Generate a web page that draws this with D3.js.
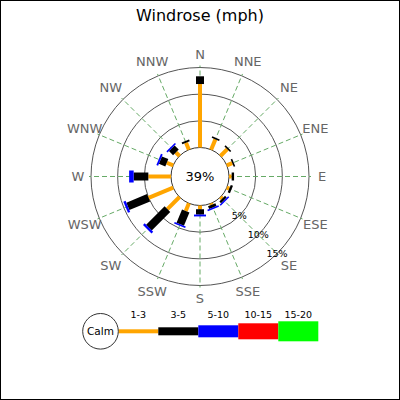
<!DOCTYPE html>
<html>
<head>
<meta charset="utf-8">
<script src="https://cdn.jsdelivr.net/npm/d3@7"></script>
<style>
  body { margin: 0; background: #fff; }
  svg { display: block; font-family: "DejaVu Sans", sans-serif; }
</style>
</head>
<body>
<svg id="rose"></svg>
<script>
// compass directions, clockwise from north
const directions = ["N", "NNE", "NE", "ENE", "E", "ESE", "SE", "SSE",
                    "S", "SSW", "SW", "WSW", "W", "WNW", "NW", "NNW"];
const speedBins = ["1-3", "3-5", "5-10", "10-15", "15-20"];

// percent of time per direction, per speed bin
const bin1to3   = [11.9, 2.1, 1.8, 1.1, 0.5, 0.5, 0.45, 0.3, 0.7, 1.55, 3.2, 5.0, 4.25, 1.3, 0.95, 1.4];
const bin3to5   = [1.45, 0.3, 0.3, 0.3, 0.45, 0.45, 0.45, 0.55, 1.0, 2.7, 4.9, 4.2, 2.75, 1.3, 1.1, 0.35];
const bin5to10  = [0, 0, 0, 0, 0, 0, 0.3, 0.3, 0.35, 0.3, 0.45, 0.45, 0.85, 0.35, 0.3, 0];
const bin10to15 = [0, 0, 0, 0, 0, 0, 0, 0, 0, 0, 0, 0, 0, 0, 0, 0];
const bin15to20 = [0, 0, 0, 0, 0, 0, 0, 0, 0, 0, 0, 0, 0, 0, 0, 0];
const calmPct = 39;
const rangeTicks = [5, 10, 15];

const binValues = [bin1to3, bin3to5, bin5to10, bin10to15, bin15to20];
const binColors = ["orange", "black", "blue", "red", "#00ff00"];
const binWidths = [4, 8, 12, 16, 20];

const width = 400, height = 400;
const cx = 200, cy = 176.5;
const calmR = 29;

const svg = d3.select("#rose")
    .attr("width", width)
    .attr("height", height);

svg.append("rect")
    .attr("x", 0.5).attr("y", 0.5)
    .attr("width", width - 1).attr("height", height - 1)
    .attr("fill", "#fff").attr("stroke", "#000");

svg.append("text")
    .attr("x", width / 2).attr("y", 21)
    .attr("text-anchor", "middle")
    .attr("font-size", 16)
    .attr("fill", "#000")
    .text("Windrose (mph)");

const r = d3.scaleLinear().domain([0, 15]).range([calmR, 109]);
const angle = d3.scaleLinear().domain([0, directions.length]).range([0, 2 * Math.PI]);
const px = (i, rr) => cx + rr * Math.sin(angle(i));
const py = (i, rr) => cy - rr * Math.cos(angle(i));

const g = svg.append("g");

// range rings
g.selectAll("circle.ring")
    .data(rangeTicks)
    .enter().append("circle")
    .attr("class", "ring")
    .attr("cx", cx).attr("cy", cy)
    .attr("r", d => r(d))
    .attr("fill", "none")
    .attr("stroke", "#555");

// direction grid lines
g.selectAll("line.grid")
    .data(directions)
    .enter().append("line")
    .attr("class", "grid")
    .attr("x1", (d, i) => px(i, calmR)).attr("y1", (d, i) => py(i, calmR))
    .attr("x2", (d, i) => px(i, r(15) + 2)).attr("y2", (d, i) => py(i, r(15) + 2))
    .attr("stroke", "#66aa66")
    .attr("stroke-dasharray", "5,3");

// calm circle
g.append("circle")
    .attr("cx", cx).attr("cy", cy).attr("r", calmR)
    .attr("fill", "#fff").attr("stroke", "#333");

// stacked rays
directions.forEach((dir, i) => {
    let acc = 0;
    binValues.forEach((vals, b) => {
        const v = vals[i];
        if (v <= 0) return;
        g.append("line")
            .attr("x1", px(i, r(acc))).attr("y1", py(i, r(acc)))
            .attr("x2", px(i, r(acc + v))).attr("y2", py(i, r(acc + v)))
            .attr("stroke", binColors[b])
            .attr("stroke-width", binWidths[b]);
        acc += v;
    });
});

// direction labels
g.selectAll("text.dir")
    .data(directions)
    .enter().append("text")
    .attr("class", "dir")
    .attr("x", (d, i) => px(i, 122 + 4 * Math.abs(Math.sin(2 * angle(i)))))
    .attr("y", (d, i) => py(i, 122 + 4 * Math.abs(Math.sin(2 * angle(i)))))
    .attr("text-anchor", "middle")
    .attr("dominant-baseline", "central")
    .attr("font-size", 13)
    .attr("fill", "#666")
    .text(d => d);

// range labels along SE
const labAng = 3 * Math.PI / 4;
g.selectAll("text.tick")
    .data(rangeTicks)
    .enter().append("text")
    .attr("class", "tick")
    .attr("x", d => cx + r(d) * Math.sin(labAng))
    .attr("y", d => cy - r(d) * Math.cos(labAng))
    .attr("text-anchor", "middle")
    .attr("dominant-baseline", "central")
    .attr("font-size", 9.5)
    .attr("fill", "#000")
    .text(d => d + "%");

g.append("text")
    .attr("x", cx).attr("y", cy)
    .attr("text-anchor", "middle")
    .attr("dominant-baseline", "central")
    .attr("font-size", 13)
    .attr("fill", "#000")
    .text(calmPct + "%");

// legend
const legY = 331.3;
const lx = d3.scaleBand().domain(speedBins).range([118.3, 318.3]);
const leg = svg.append("g");

leg.selectAll("rect")
    .data(speedBins)
    .enter().append("rect")
    .attr("x", d => lx(d))
    .attr("y", (d, i) => legY - binWidths[i] / 2)
    .attr("width", lx.bandwidth())
    .attr("height", (d, i) => binWidths[i])
    .attr("fill", (d, i) => binColors[i]);

leg.selectAll("text")
    .data(speedBins)
    .enter().append("text")
    .attr("x", d => lx(d) + lx.bandwidth() / 2)
    .attr("y", 314)
    .attr("text-anchor", "middle")
    .attr("dominant-baseline", "central")
    .attr("font-size", 9.5)
    .attr("fill", "#000")
    .text(d => d);

leg.append("circle")
    .attr("cx", 100.5).attr("cy", legY).attr("r", 17.8)
    .attr("fill", "#fff").attr("stroke", "#333");

leg.append("text")
    .attr("x", 100.5).attr("y", legY)
    .attr("text-anchor", "middle")
    .attr("dominant-baseline", "central")
    .attr("font-size", 10.5)
    .attr("fill", "#000")
    .text("Calm");
</script>
</body>
</html>
